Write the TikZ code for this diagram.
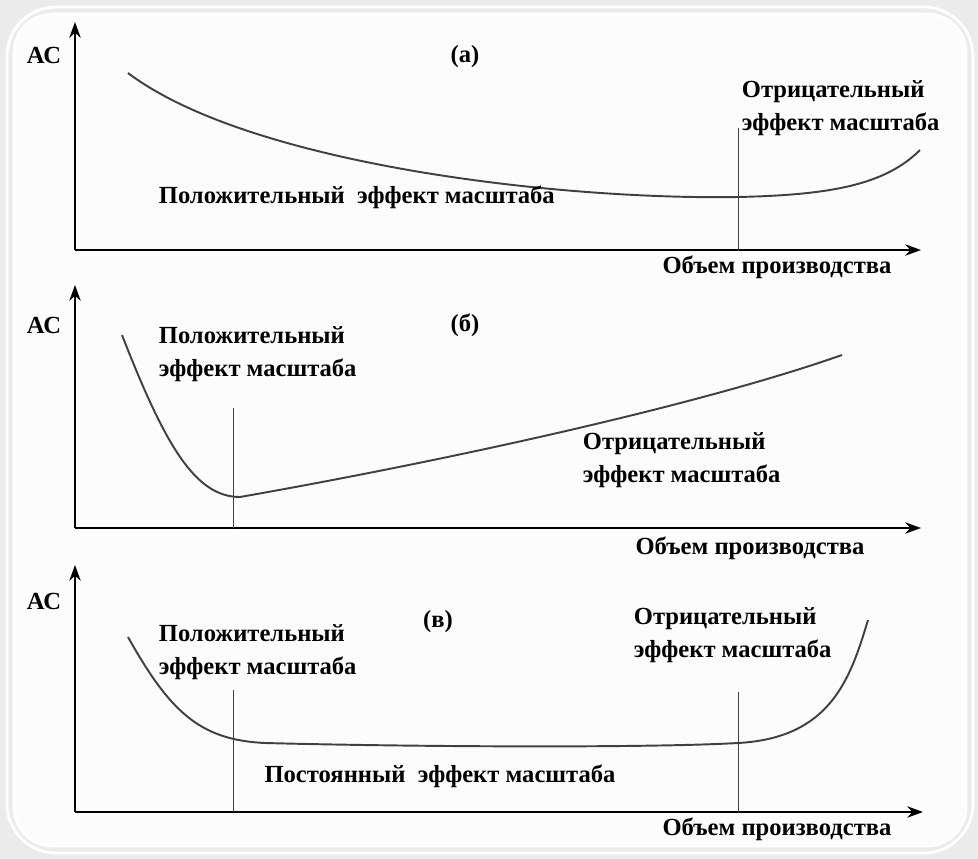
\documentclass[tikz,border=0pt]{standalone}
\usepackage{fontspec}
\setmainfont{Liberation Serif}
\usetikzlibrary{positioning, arrows.meta}

\tikzset{
    lbl/.style={font=\bfseries\fontsize{14}{19}\selectfont, inner sep=2pt, align=left},
    axis/.style={line width=0.8pt, -{Stealth[length=9pt, width=6.5pt]}},
    curve/.style={line width=1.1pt, black!75},
    vline/.style={line width=0.5pt, black!75},
}

\begin{document}
\begin{tikzpicture}[x=0.02cm, y=-0.02cm, node distance=1mm]
    \useasboundingbox (0,0) rectangle (978,859);
    % frame
    \fill[black!8] (0,0) rectangle (978,859);
    \draw[white, line width=1.6pt, rounded corners=28] (7,7) rectangle (973,853);
    \filldraw[fill=black!1, draw=white, line width=1.6pt, rounded corners=22] (14,14) rectangle (966,846);

    % axes
    \foreach \n/\y/\t/\e in {a/250/22/921, b/528/285/921, c/812/565/923} {
        \coordinate (O\n) at (75,\y);
        \draw[axis] (O\n) -- (75,\t);
        \draw[axis] (O\n) -- (\e,\y);
    }

    % (a)
    \node[lbl] (ACa) at (44,55) {АС};
    \node[lbl] (capa) at (465,57) {(а)};
    \draw[curve] (128,73) .. controls (250,165) and (560,200) .. (738,197)
        .. controls (830,195) and (885,185) .. (920,150);
    \coordinate (mina) at (738,128);
    \draw[vline] (738,250) -- (mina);
    \node[lbl, anchor=west] (nega) at (738,108) {Отрицательный\\эффект масштаба};
    \node[lbl, anchor=west] (posa) at (155,197) {Положительный~~эффект масштаба};
    \node[lbl] (qa) at (777,267) {Объем производства};

    % (b)
    \node[lbl] (ACb) at (44,325) {АС};
    \node[lbl] (capb) at (465,325) {(б)};
    \draw[curve] (122,335) .. controls (165,445) and (195,497) .. (240,497)
        .. controls (450,460) and (700,405) .. (842,355);
    \coordinate (minb) at (233,408);
    \draw[vline] (233,528) -- (minb);
    \node[lbl, anchor=west] (posb) at (155,354) {Положительный\\эффект масштаба};
    \node[lbl, anchor=west] (negb) at (579,460) {Отрицательный\\эффект масштаба};
    \node[lbl] (qb) at (750,548) {Объем производства};

    % (c)
    \node[lbl] (ACc) at (44,601) {АС};
    \node[lbl] (capc) at (438,622) {(в)};
    \draw[curve] (128,637) .. controls (170,712) and (200,740) .. (265,743)
        .. controls (420,747) and (650,748) .. (738,743)
        .. controls (830,738) and (850,680) .. (868,620);
    \coordinate (lc) at (233,690);
    \coordinate (rc) at (738,692);
    \draw[vline] (233,812) -- (lc);
    \draw[vline] (738,812) -- (rc);
    \node[lbl, anchor=west] (posc) at (155,652) {Положительный\\эффект масштаба};
    \node[lbl, anchor=west] (negc) at (630,635) {Отрицательный\\эффект масштаба};
    \node[lbl] (constc) at (440,776) {Постоянный~~эффект масштаба};
    \node[lbl] (qc) at (777,829) {Объем производства};
\end{tikzpicture}
\end{document}
